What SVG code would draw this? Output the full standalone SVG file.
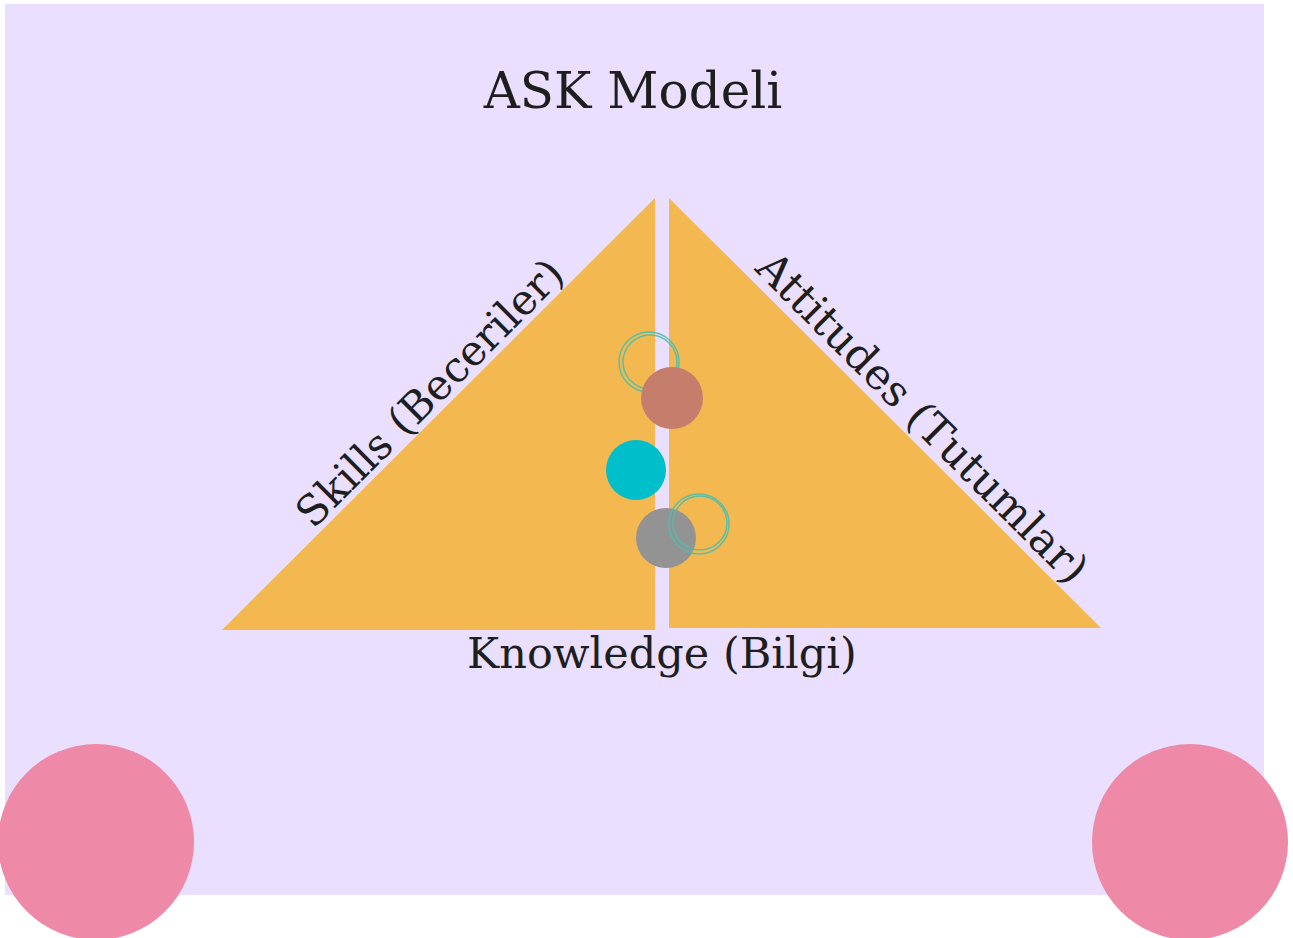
<svg xmlns="http://www.w3.org/2000/svg" width="1293" height="938" viewBox="0 0 1293 938">
<style>
.lbl{font-family:"DejaVu Serif","Liberation Serif",serif;fill:#1e1e1e;text-anchor:middle}
.tri{fill:#F4B850}
.ring{fill:none;stroke:#4dbfb0;stroke-width:1.5;opacity:0.9}
</style>
<rect width="1293" height="938" fill="#ffffff"/>
<rect x="5" y="4" width="1259" height="891" fill="#EADFFE"/>
<g id="triangle-left"><polygon class="tri" points="655,198 655,630 222,630"/></g>
<g id="triangle-right"><polygon class="tri" points="669,198 1101,628 669,628"/></g>
<g id="title"><text class="lbl" x="633" y="108" font-size="50">ASK Modeli</text></g>
<g id="knowledge"><text class="lbl" x="662" y="668" font-size="43">Knowledge (Bilgi)</text></g>
<g id="skills"><text class="lbl" x="0" y="0" font-size="42" transform="translate(440,403) rotate(-45)">Skills (Beceriler)</text></g>
<g id="attitudes"><text class="lbl" x="0" y="0" font-size="43" transform="translate(912,428) rotate(45)">Attitudes (Tutumlar)</text></g>
<g id="dots">
<circle cx="649" cy="362" r="30" class="ring"/>
<circle cx="650" cy="362" r="27" class="ring"/>
<circle cx="672" cy="398" r="31" fill="#C57E6C"/>
<circle cx="636" cy="470" r="30" fill="#00BFCA"/>
<circle cx="666" cy="538" r="30" fill="#939393"/>
<circle cx="699" cy="524" r="30" class="ring"/>
<circle cx="700" cy="523" r="27" class="ring"/>
</g>
<g id="pink-circles">
<circle cx="96" cy="842" r="98" fill="#EE8AA8"/>
<circle cx="1190" cy="842" r="98" fill="#EE8AA8"/>
</g>
</svg>
